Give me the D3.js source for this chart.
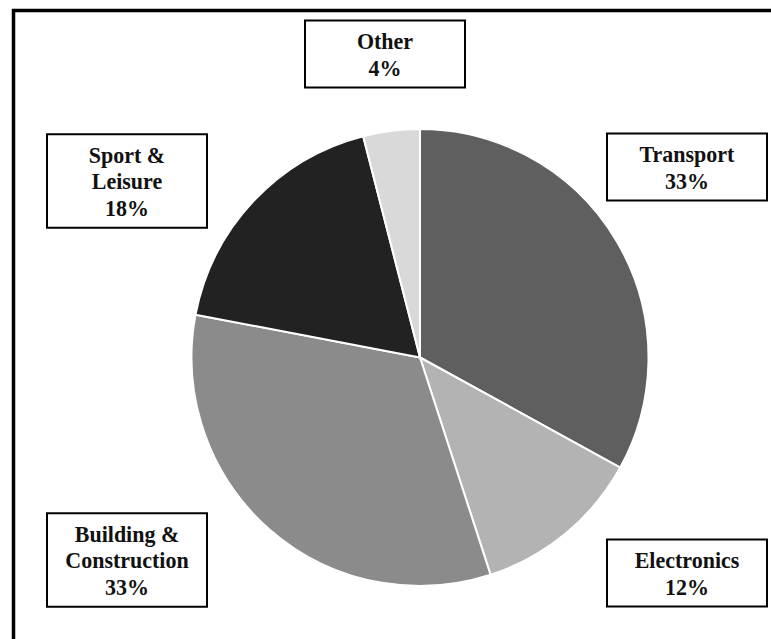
<!DOCTYPE html>
<html>
<head>
<meta charset="utf-8">
<script src="https://cdn.jsdelivr.net/npm/d3@7"></script>
<style>
  html, body { margin: 0; padding: 0; background: #fff; }
  svg { display: block; }
</style>
</head>
<body>
<svg id="chart" width="771" height="639"></svg>
<script>
// Market share by application sector (percent)
const categories = ["Transport", "Electronics", "Building & Construction", "Sport & Leisure", "Other"];
const shares = [33, 12, 33, 18, 4];
const sliceColors = ["#5f5f5f", "#b3b3b3", "#8b8b8b", "#222222", "#d9d9d9"];

// Label box centres, one per category
const labelCenters = [
  [687, 167],
  [687, 573],
  [127, 560],
  [127, 181],
  [385, 54]
];

const W = 771, H = 639;
const svg = d3.select("#chart");

// Outer frame (runs off the right and bottom edges)
svg.append("rect")
  .attr("x", 13.5).attr("y", 10.5)
  .attr("width", W + 40).attr("height", H + 40)
  .attr("fill", "none")
  .attr("stroke", "#000")
  .attr("stroke-width", 3.5);

const cx = 420, cy = 357.5, radius = 228.5;

const pie = d3.pie().sort(null).value(d => d.value);
const arc = d3.arc().innerRadius(0).outerRadius(radius);

const data = categories.map((c, i) => ({ name: c, value: shares[i], color: sliceColors[i] }));

const g = svg.append("g").attr("transform", `translate(${cx},${cy})`);
g.selectAll("path.slice")
  .data(pie(data))
  .join("path")
  .attr("class", "slice")
  .attr("d", arc)
  .attr("fill", d => d.data.color)
  .attr("stroke", "#fff")
  .attr("stroke-width", 2)
  .attr("stroke-linejoin", "round");

// Split a category name after "&" for the label box
function labelLines(name) {
  const idx = name.indexOf("& ");
  if (idx >= 0) return [name.slice(0, idx + 1), name.slice(idx + 2)];
  return [name];
}

const boxW = 160, lineH = 26.5, padV = 14;
const labels = svg.append("g").attr("class", "labels");

data.forEach((d, i) => {
  const lines = labelLines(d.name).concat([d.value + "%"]);
  const [lx, ly] = labelCenters[i];
  const boxH = lines.length * lineH + padV;
  const lg = labels.append("g").attr("transform", `translate(${lx},${ly})`);
  lg.append("rect")
    .attr("x", -boxW / 2).attr("y", -boxH / 2)
    .attr("width", boxW).attr("height", boxH)
    .attr("fill", "#fff")
    .attr("stroke", "#000")
    .attr("stroke-width", 2);
  lg.selectAll("text")
    .data(lines)
    .join("text")
    .attr("transform", (t, j) => `translate(0,${(j - (lines.length - 1) / 2) * lineH}) scale(1,1.08)`)
    .attr("dy", "0.35em")
    .attr("text-anchor", "middle")
    .attr("font-family", "'Liberation Serif', 'Times New Roman', serif")
    .attr("font-weight", "bold")
    .attr("font-size", 22)
    .attr("fill", "#111")
    .text(t => t);
});
</script>
</body>
</html>
